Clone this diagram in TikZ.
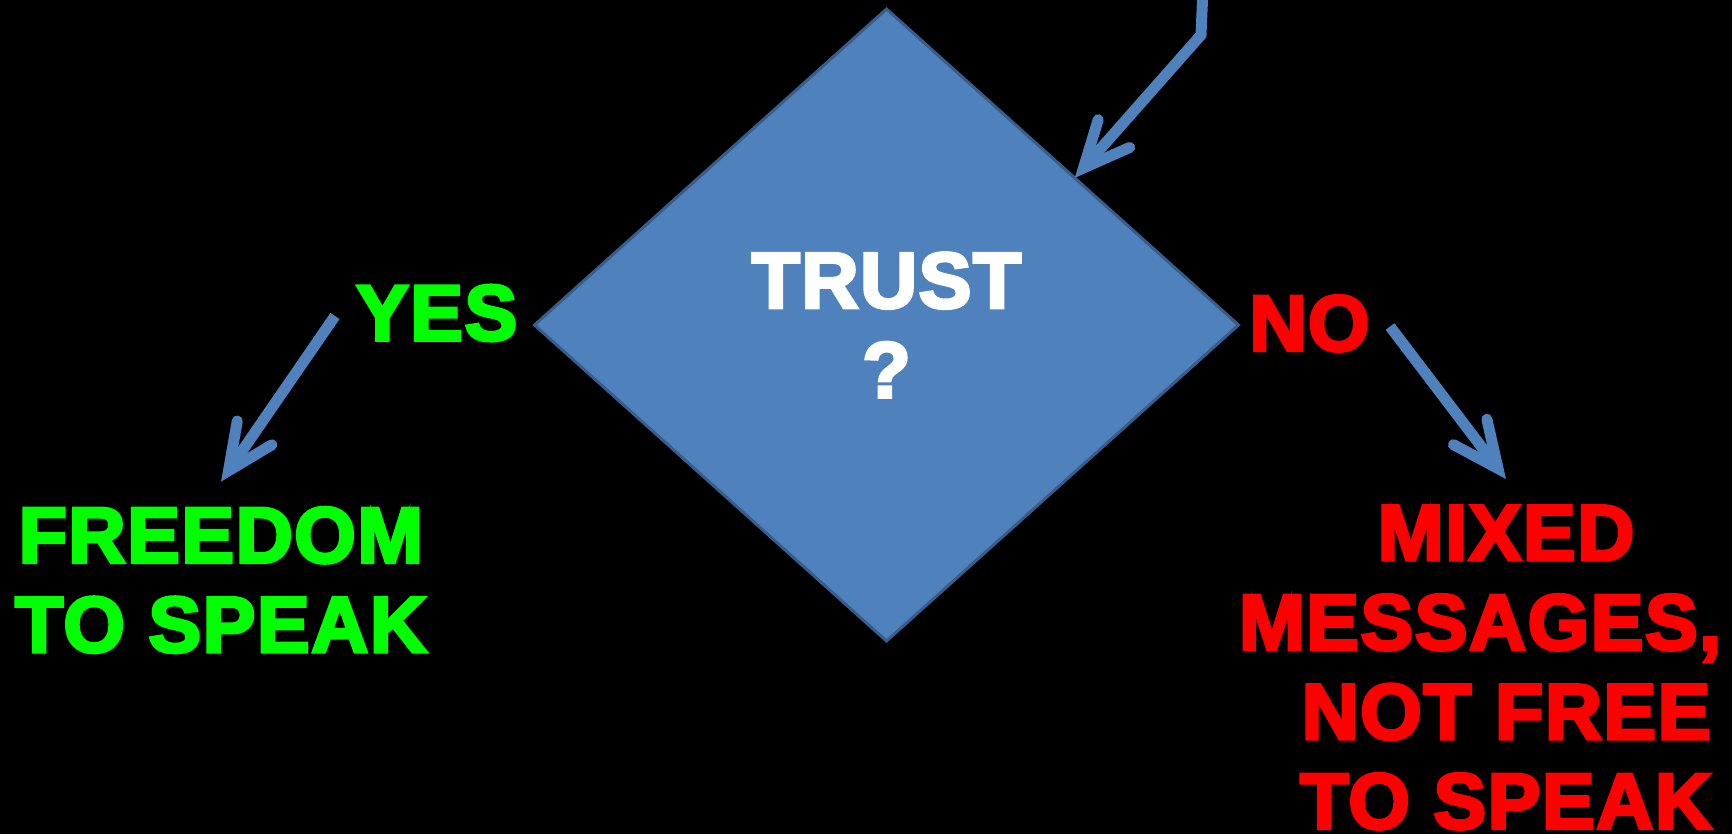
\documentclass[tikz,border=0pt]{standalone}
\usepackage{fontspec}
\usetikzlibrary{shapes.geometric,arrows.meta}
% Heavy Arial-like lettering for all captions
\newfontfamily\heavyfont{Liberation Sans}[BoldFeatures={FakeBold=4,LetterSpace=2}]
\definecolor{flowblue}{HTML}{4F81BD}
\definecolor{rimblue}{HTML}{385D8A}
\definecolor{yesgreen}{HTML}{00FF00}
\definecolor{nored}{HTML}{FF0000}
\begin{document}
\begin{tikzpicture}[x=0.5pt,y=-0.5pt,
  caption/.style={font={\heavyfont\bfseries\fontsize{39.5}{44.75}\selectfont},
    inner sep=0pt, outer sep=0pt, align=center},
  decision/.style={diamond, draw=rimblue, fill=flowblue, line width=1.5pt,
    minimum width=352pt, minimum height=316pt, inner sep=0pt, text=white},
  flow/.style={draw=flowblue, line width=5.5pt,
    -{Straight Barb[length=23pt,width=21pt,line cap=round,line join=miter]}},
]
% black page
\fill[black] (0,0) rectangle (1732,834);
\useasboundingbox (0,0) rectangle (1732,834);

% decision diamond
\node[decision, caption, text=white] (d) at (886.5,325) {TRUST\\?};

% branch labels
\node[caption, text=yesgreen] (yes) at (436.7,313) {YES};
\node[caption, text=nored] (no) at (1309.5,323.4) {NO};

% outcomes
\node[caption, text=yesgreen] (free) at (221,580) {FREEDOM\\TO SPEAK};
\node[caption, text=nored] (mixed) at (1506,667.5)
  {MIXED\\\hspace*{-26pt}MESSAGES,\\NOT FREE\\TO SPEAK};

% connectors
\coordinate (feed) at (1203,-12);
\coordinate (feedbend) at (1201,35);
\coordinate (yesfoot) at (335,316);
\coordinate (nofoot) at (1390,326.5);

\draw[flow] (feed) -- (feedbend) -- (d.38);
\draw[flow] (yesfoot) -- ([yshift=12.8pt]free.north);
\draw[flow] (nofoot) -- ([yshift=13.3pt]mixed.north);
\end{tikzpicture}
\end{document}
